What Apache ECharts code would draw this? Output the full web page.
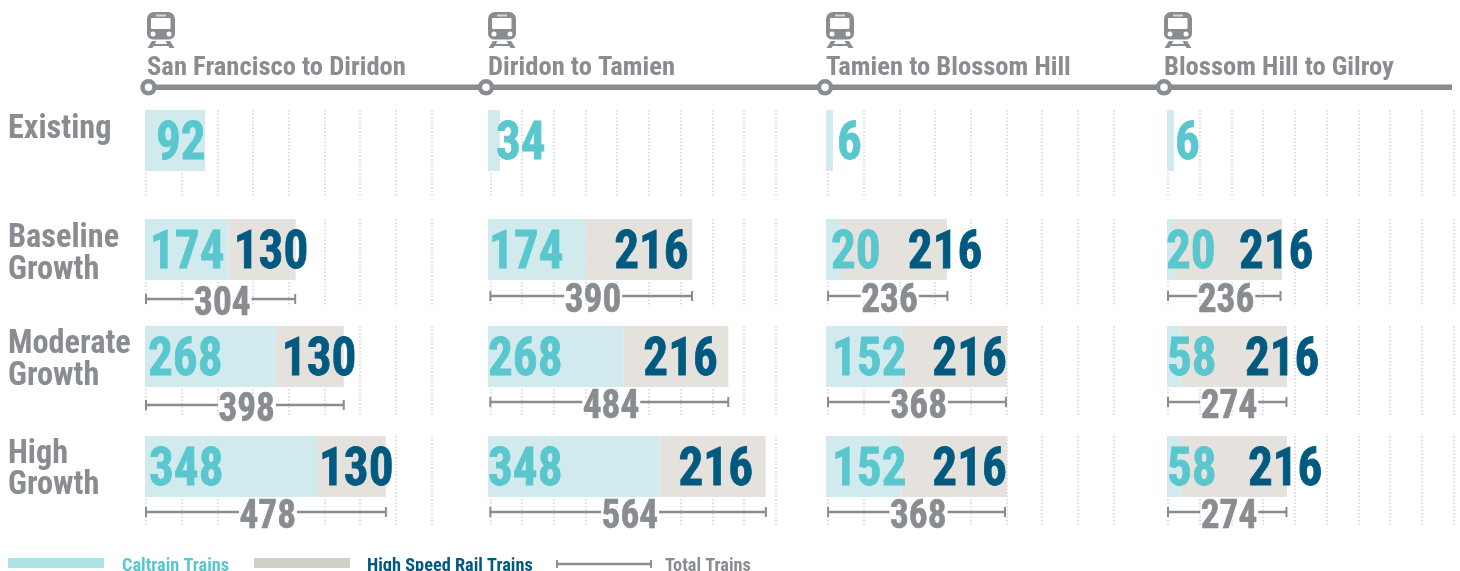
<!DOCTYPE html>
<html>
<head>
<meta charset="utf-8">
<style>
  html, body { margin: 0; padding: 0; background: #fff; }
  #chart { width: 1460px; height: 571px; }
</style>
</head>
<body>
<div id="chart"></div>
<script src="https://cdn.jsdelivr.net/npm/echarts@6/dist/echarts.min.js"></script>
<script>
const segments = ['San Francisco to Diridon', 'Diridon to Tamien', 'Tamien to Blossom Hill', 'Blossom Hill to Gilroy']
const scenarios = [['Existing'], ['Baseline', 'Growth'], ['Moderate', 'Growth'], ['High', 'Growth']]

// numbers as printed in the picture
const caltrainTrains = [[92, 174, 268, 348], [34, 174, 268, 348], [6, 20, 152, 152], [6, 20, 58, 58]]
const highSpeedTrains = [[0, 130, 130, 130], [0, 216, 216, 216], [0, 216, 216, 216], [0, 216, 216, 216]]
const totalTrains = [[92, 304, 398, 478], [34, 390, 484, 564], [6, 236, 368, 368], [6, 236, 274, 274]]

// the drawn bars don't always agree with their printed number (92 is drawn long, 58 short),
// so the lengths are read off the dotted scale separately
const caltrainDrawn = [[121, 169, 264, 347], [24, 198, 273, 346], [14, 30, 152, 152], [14, 16, 28, 28]]
const highSpeedDrawn = [[0, 135, 137, 139], [0, 214, 212, 214], [0, 214, 213, 213], [0, 216, 214, 214]]
const totalDrawn = [[0, 301, 399, 484], [0, 407, 480, 556], [0, 241, 359, 357], [0, 227, 239, 239]]

const scaleMax = 576
const tickStep = [72, 64, 72, 64]

// layout, in pixels
const plotWidth = 285.5
const barLeft = [145, 488, 826, 1167]
const dotLeft = [146, 490.3, 828, 1168]
const rowTop = [110, 219, 326, 436]
const rowHeight = [87, 87, 89, 89]
const barHeight = 61
const whiskerY = [[0, 299, 405, 512], [0, 296, 402, 512], [0, 296, 402, 512], [0, 296, 402, 512]]
const caltrainLabelX = [[11, 5, 3, 4], [8, 1, 0, 0], [11, 5, 6, 6], [8, -1, 0, 0]]
const highSpeedLabelX = [[0, 5, 6, 2], [0, 28, 20, 19], [0, 67, 31, 31], [0, 64, 64, 67]]

const grey = '#898c90'
const teal = '#5ac6ce'
const navy = '#005a80'
const textFont = 'Roboto Condensed'

const grids = []
const xAxes = []
const yAxes = []
const series = []

function addGrid(top, height, left, axisX) {
  const idx = grids.length
  grids.push({ left: left, width: plotWidth, top: top, height: height })
  xAxes.push(Object.assign({
    type: 'value', gridIndex: idx, min: 0, max: scaleMax,
    axisLine: { show: false }, axisTick: { show: false }, axisLabel: { show: false }, splitLine: { show: false }
  }, axisX))
  yAxes.push({ type: 'category', gridIndex: idx, data: ['row'], show: false })
  return idx
}

// the printed digits are taller and narrower than the font, so they are squeezed a little
function barNumber(gridIdx, from, dx, text, color) {
  return {
    type: 'custom', xAxisIndex: gridIdx, yAxisIndex: gridIdx, silent: true, z: 4,
    encode: { x: 0, y: 1 },
    data: [[from, 'row']],
    renderItem: (params, api) => {
      const pt = api.coord([api.value(0), api.value(1)])
      return {
        type: 'text', x: pt[0] + dx, y: pt[1] + 5, scaleX: 0.91,
        style: { text: text, fill: color, stroke: color, lineWidth: 0.8, font: 'bold 54px "' + textFont + '"', verticalAlign: 'middle' }
      }
    }
  }
}

function totalNumber(gridIdx, mid, text) {
  return {
    type: 'custom', xAxisIndex: gridIdx, yAxisIndex: gridIdx, silent: true, z: 6,
    encode: { x: 0, y: 1 },
    data: [[mid, 'row']],
    renderItem: (params, api) => {
      const pt = api.coord([api.value(0), api.value(1)])
      return {
        type: 'group', x: pt[0] + 2, y: pt[1], children: [
          { type: 'rect', shape: { x: -29, y: -4, width: 58, height: 8 }, style: { fill: '#fff' } },
          {
            type: 'text', x: -28.5, y: 6, scaleX: 0.91,
            style: { text: text, fill: grey, stroke: grey, lineWidth: 0.6, font: 'bold 41px "' + textFont + '"', verticalAlign: 'middle' }
          }
        ]
      }
    }
  }
}

segments.forEach((seg, p) => {
  scenarios.forEach((sc, r) => {
    // dotted scale behind everything
    const dots = addGrid(rowTop[r], rowHeight[r], dotLeft[p], {
      interval: tickStep[p],
      splitLine: { show: true, lineStyle: { color: '#d4d2ce', width: 1.5, type: [1.5, 2] } }
    })
    series.push({ type: 'bar', xAxisIndex: dots, yAxisIndex: dots, silent: true, data: [] })

    const bars = addGrid(rowTop[r], barHeight, barLeft[p])
    series.push({
      type: 'bar', name: 'Caltrain Trains', stack: 'c' + p + r, xAxisIndex: bars, yAxisIndex: bars,
      barWidth: '100%', silent: true, itemStyle: { color: '#d0eaed' },
      data: [caltrainDrawn[p][r]]
    })
    if (highSpeedTrains[p][r] > 0) {
      series.push({
        type: 'bar', name: 'High Speed Rail Trains', stack: 'c' + p + r, xAxisIndex: bars, yAxisIndex: bars,
        barWidth: '100%', silent: true, itemStyle: { color: '#e5e2de' },
        data: [highSpeedDrawn[p][r]]
      })
    }
    series.push(barNumber(bars, 0, caltrainLabelX[p][r], String(caltrainTrains[p][r]), teal))

    if (highSpeedTrains[p][r] > 0) {
      series.push(barNumber(bars, caltrainDrawn[p][r], highSpeedLabelX[p][r], String(highSpeedTrains[p][r]), navy))

      const span = addGrid(whiskerY[p][r] - 6, 12, dotLeft[p])
      const end = totalDrawn[p][r]
      series.push({
        type: 'line', name: 'Total Trains', xAxisIndex: span, yAxisIndex: span, silent: true, clip: false,
        showAllSymbol: true, animation: false, z: 5,
        lineStyle: { color: grey, width: 2.5 }, itemStyle: { color: grey },
        symbol: 'rect', symbolSize: [2, 10],
        data: [[0, 'row'], [end, 'row']]
      })
      series.push(totalNumber(span, end / 2, String(totalTrains[p][r])))
    }
  })
})

// route line, rings, train icons, headings
const headX = [147, 488, 826, 1164]
const ringX = [148.5, 486, 825, 1164]
const graphics = [{
  type: 'line', z: 1, shape: { x1: 148, y1: 87.3, x2: 1452, y2: 87.3 }, style: { stroke: grey, lineWidth: 5.5 }
}]

function trainIcon(x) {
  return {
    type: 'group', x: x, y: 12, children: [
      { type: 'rect', shape: { x: 0, y: 0, width: 28, height: 27.5, r: [7, 7, 6, 6] }, style: { fill: grey } },
      { type: 'rect', shape: { x: 4, y: 6, width: 19.5, height: 11, r: 1 }, style: { fill: '#fff' } },
      { type: 'rect', shape: { x: 9, y: 2.5, width: 10, height: 2 }, style: { fill: '#d5d6d8' } },
      { type: 'circle', shape: { cx: 6, cy: 22, r: 2.5 }, style: { fill: '#fff' } },
      { type: 'circle', shape: { cx: 22, cy: 22, r: 2.5 }, style: { fill: '#fff' } },
      { type: 'polygon', shape: { points: [[5, 29], [9.5, 29], [5.5, 36], [0.5, 36]] }, style: { fill: grey } },
      { type: 'polygon', shape: { points: [[18.5, 29], [23, 29], [27.5, 36], [22.5, 36]] }, style: { fill: grey } },
      { type: 'rect', shape: { x: 5, y: 32, width: 18, height: 2 }, style: { fill: grey } }
    ]
  }
}

function plainText(text, x, y, size, color) {
  return {
    type: 'text', x: x, y: y, z: 3,
    style: { text: text, fill: color, font: 'bold ' + size + 'px "' + textFont + '"', verticalAlign: 'bottom' }
  }
}

segments.forEach((seg, p) => {
  graphics.push(trainIcon(headX[p]))
  graphics.push(plainText(seg, headX[p], 82, 26.6, grey))
  graphics.push({
    type: 'circle', z: 2, shape: { cx: ringX[p], cy: 87.3, r: 6 }, style: { fill: '#fff', stroke: grey, lineWidth: 4.5 }
  })
})

const scenarioBase = [[145.5], [255, 287], [361, 393], [471, 502]]
scenarios.forEach((sc, r) => {
  sc.forEach((word, i) => {
    graphics.push(plainText(word, 8, scenarioBase[r][i], 32.3, grey))
  })
})

// legend along the bottom
graphics.push(
  { type: 'rect', shape: { x: 8, y: 558, width: 96, height: 10 }, style: { fill: '#aee3e5' } },
  plainText('Caltrain Trains', 122, 575, 18.3, teal),
  { type: 'rect', shape: { x: 254, y: 558, width: 96, height: 10 }, style: { fill: '#d2cfc9' } },
  plainText('High Speed Rail Trains', 367, 575, 18.3, navy),
  { type: 'line', shape: { x1: 557, y1: 564, x2: 651, y2: 564 }, style: { stroke: grey, lineWidth: 2.5 } },
  { type: 'line', shape: { x1: 557, y1: 560, x2: 557, y2: 568 }, style: { stroke: grey, lineWidth: 2 } },
  { type: 'line', shape: { x1: 651, y1: 560, x2: 651, y2: 568 }, style: { stroke: grey, lineWidth: 2 } },
  plainText('Total Trains', 665, 575, 18.3, grey)
)

const chart = echarts.init(document.getElementById('chart'), null, { renderer: 'canvas' })
chart.setOption({
  animation: false,
  backgroundColor: '#fff',
  grid: grids,
  xAxis: xAxes,
  yAxis: yAxes,
  series: series,
  graphic: graphics
})
window.addEventListener('resize', () => chart.resize())
</script>
</body>
</html>
